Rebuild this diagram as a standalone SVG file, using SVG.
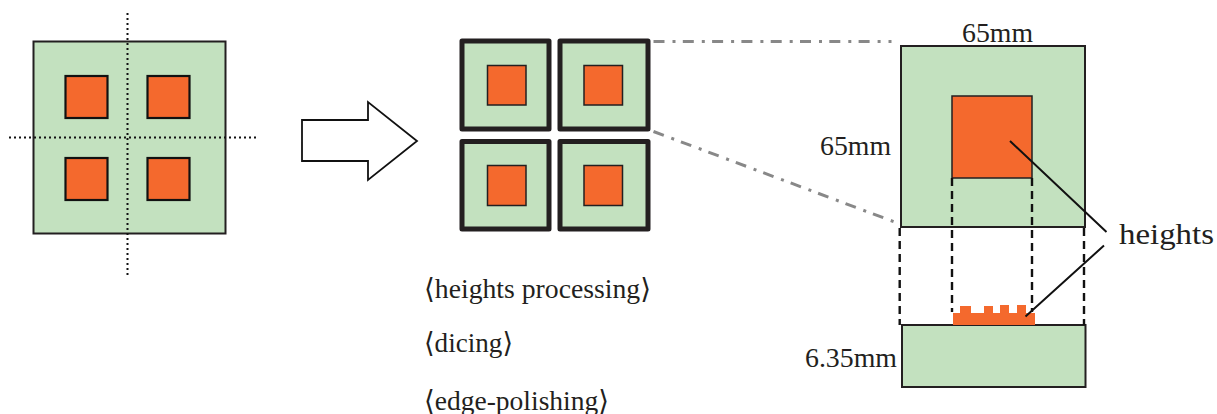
<svg xmlns="http://www.w3.org/2000/svg" width="1217" height="414" viewBox="0 0 1217 414">
<style>
.g{fill:#c3e1bf;stroke:#231f20;stroke-width:2}
.o{fill:#f4692d;stroke:#231f20;stroke-width:1.5}
.o2{fill:#f4692d;stroke:#111;stroke-width:2.2}
.t{fill:#c3e1bf;stroke:#231f20;stroke-width:5;stroke-linejoin:round}
.dot{fill:none;stroke:#111;stroke-width:2;stroke-dasharray:2 3}
.dd{fill:none;stroke:#888;stroke-width:3;stroke-dasharray:11 8 3 7.300}
.da{fill:none;stroke:#111;stroke-width:2.4;stroke-dasharray:8 5}
.l{fill:none;stroke:#111;stroke-width:2}
text{font-family:"Liberation Serif","DejaVu Serif",serif;fill:#231f20;font-size:28px}
.big{font-size:30px}
</style>
<g id="wafer">
<rect class="g" x="33.5" y="41.5" width="192" height="192"/>
<rect class="o2" x="65.5" y="76" width="42" height="42"/>
<rect class="o2" x="147.5" y="76" width="42" height="42"/>
<rect class="o2" x="65.5" y="158" width="42" height="42"/>
<rect class="o2" x="147.5" y="158" width="42" height="42"/>
</g>
<g id="process-arrow"><polygon points="302,120 368,120 368,102 417,141 368,180 368,161 302,161" fill="#fff" stroke="#111" stroke-width="1.8"/></g>
<g id="die-1"><rect class="t" x="462" y="41" width="87" height="88"/><rect class="o" x="487.5" y="65.5" width="38.5" height="39.5"/></g>
<g id="die-2"><rect class="t" x="560" y="41" width="88" height="88"/><rect class="o" x="584" y="65.5" width="38.5" height="39.5"/></g>
<g id="die-3"><rect class="t" x="462" y="141.5" width="87" height="87.5"/><rect class="o" x="487.5" y="165.5" width="38.5" height="40"/></g>
<g id="die-4"><rect class="t" x="560" y="141.5" width="88" height="87.5"/><rect class="o" x="584" y="165.5" width="38.5" height="40"/></g>
<g id="top-view"><rect class="g" x="901" y="46" width="184" height="181"/><rect class="o" x="952" y="96" width="80" height="82"/></g>
<g id="side-view">
<rect class="g" x="902" y="325" width="183.500" height="62"/>
<path fill="#f4692d" d="M953 325V313H960V306H971V313H984V306H993V313H1000V305H1009V313H1017V305H1026V313H1035V325Z"/>
</g>
<g id="connectors">
<path class="dot" d="M127.500 13V275M9 137.500H258"/>
<path class="dd" d="M653.500 41.500H881M653.500 131.500L900 224"/>
<path class="dd" d="M888.500 41.500H891.500"/>
<path class="da" d="M899.700 228V325M952 178V312M1032 178V312M1084 228V325"/>
<path class="l" d="M1010 141L1106.500 232M1104 245.500L1025.500 316.500"/>
</g>
<g id="labels">
<text x="962" y="42" textLength="71" lengthAdjust="spacingAndGlyphs">65mm</text>
<text x="820" y="155" textLength="71" lengthAdjust="spacingAndGlyphs">65mm</text>
<text x="805" y="367" textLength="92" lengthAdjust="spacingAndGlyphs">6.35mm</text>
<text class="big" x="1119" y="244" textLength="95" lengthAdjust="spacingAndGlyphs">heights</text>
<text x="424" y="298" textLength="227" lengthAdjust="spacingAndGlyphs">⟨heights processing⟩</text>
<text x="424" y="352" textLength="89" lengthAdjust="spacingAndGlyphs">⟨dicing⟩</text>
<text x="424" y="410" textLength="185" lengthAdjust="spacingAndGlyphs">⟨edge-polishing⟩</text>
</g>
</svg>
